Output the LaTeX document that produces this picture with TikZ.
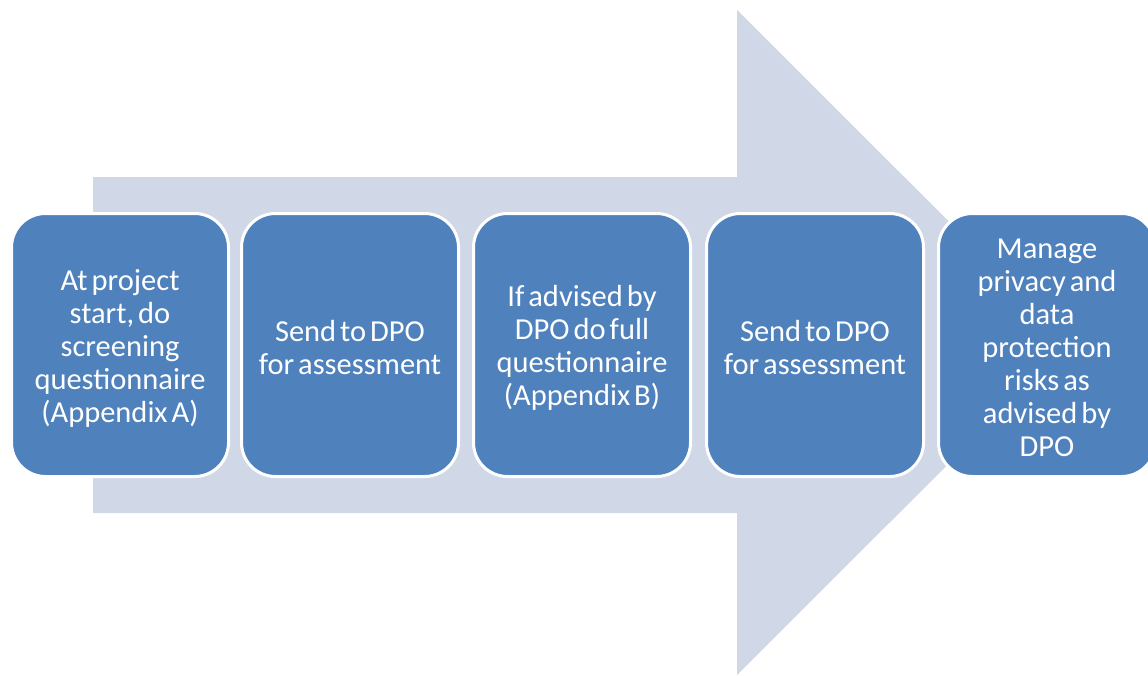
\documentclass[tikz,border=0pt]{standalone}
\usepackage{fontspec}
\setmainfont{Carlito}
\definecolor{boxblue}{HTML}{4F81BD}
\definecolor{arrowgray}{HTML}{D0D8E8}
\newcommand\boxfont{\fontsize{30.5}{33}\selectfont\spaceskip=4pt plus 1pt minus 1pt\relax}
\tikzset{
  stepbox/.style={draw=white, line width=3pt, fill=boxblue, rounded corners=34pt,
    minimum width=217pt, minimum height=263pt, inner sep=0pt, outer sep=0pt, anchor=north west},
  steptext/.style={text=white, align=center, font=\boxfont, inner sep=0pt, yshift=-3pt},
}
\begin{document}
\begin{tikzpicture}[x=1pt,y=-1pt]
\useasboundingbox (0,0) rectangle (1148,675);
\clip (0,0) rectangle (1148,675);
\fill[arrowgray] (93,177) -- (737,177) -- (737,10) -- (1070,342.5) -- (737,675) -- (737,513) -- (93,513) -- cycle;
\node[stepbox] (s1) at (11.5,213.5) {};
\node[stepbox] (s2) at (241.5,213.5) {};
\node[stepbox] (s3) at (473.5,213.5) {};
\node[stepbox] (s4) at (706.5,213.5) {};
\node[stepbox] (s5) at (938.5,213.5) {};
\node[steptext] (t1) at (s1.center) {At project\\start, do\\screening\\questionnaire\\(Appendix A)};
\node[steptext] (t2) at (s2.center) {Send to DPO\\for assessment};
\node[steptext] (t3) at (s3.center) {If advised by\\DPO do full\\questionnaire\\(Appendix B)};
\node[steptext] (t4) at (s4.center) {Send to DPO\\for assessment};
\node[steptext] (t5) at (s5.center) {Manage\\privacy and\\data\\protection\\risks as\\advised by\\DPO};
\end{tikzpicture}
\end{document}
